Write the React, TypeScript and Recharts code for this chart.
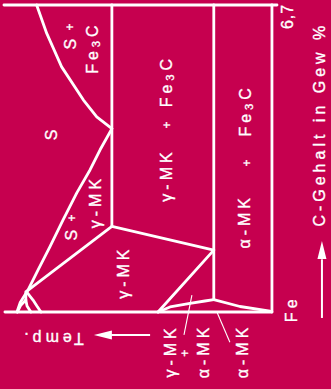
import { ScatterChart, Scatter, XAxis, YAxis, ReferenceDot, ReferenceLine } from 'recharts';

const BG = '#C6004F';
const INK = '#ffffff';
const FONT = '"Liberation Sans", Arial, sans-serif';

// temperature in °C (schematic, hot side on the left) and carbon in wt-%
const tempDomain = [460, 1600];
const carbonDomain = [0, 6.7];

// frame
const topEdge = [{ t: 1596, c: 6.7 }, { t: 460, c: 6.7 }];
const bottomEdge = [{ t: 1592, c: 0 }, { t: 481, c: 0 }];
const roomEdge = [{ t: 481, c: 0 }, { t: 481, c: 6.7 }];

// isotherms
const eutectic = [{ t: 1147, c: 6.7 }, { t: 1147, c: 1.87 }];
const eutectoid = [{ t: 723, c: 6.7 }, { t: 723, c: 0.27 }];
const peritectic = [{ t: 1505, c: 0.44 }, { t: 1505, c: 0.26 }];

// phase boundaries
const liquidusHyper = [
  { t: 1460, c: 6.7 }, { t: 1418, c: 6.08 }, { t: 1356, c: 5.35 },
  { t: 1266, c: 4.63 }, { t: 1210, c: 4.26 }, { t: 1147, c: 4.0 },
];
const liquidusHypo = [
  { t: 1147, c: 4.0 }, { t: 1196, c: 3.54 }, { t: 1238, c: 3.1 }, { t: 1293, c: 2.6 },
  { t: 1350, c: 2.01 }, { t: 1405, c: 1.42 }, { t: 1454, c: 0.92 }, { t: 1496, c: 0.48 },
  { t: 1529, c: 0.2 }, { t: 1542, c: 0 },
];
const solidus = [{ t: 1147, c: 1.87 }, { t: 1502, c: 0.45 }];
const deltaSolidus = [{ t: 1505, c: 0.26 }, { t: 1527, c: 0.14 }, { t: 1540, c: 0 }];
const deltaBoundary = [{ t: 1505, c: 0.26 }, { t: 1500, c: 0.13 }, { t: 1484, c: 0 }];
const gammaDelta = [{ t: 1502, c: 0.44 }, { t: 1475, c: 0.26 }, { t: 1459, c: 0.13 }, { t: 1442, c: 0 }];
const acm = [{ t: 1147, c: 1.87 }, { t: 723, c: 1.35 }];
const a3 = [{ t: 723, c: 1.35 }, { t: 955, c: 0 }];
const alphaGamma = [{ t: 955, c: 0 }, { t: 905, c: 0.11 }, { t: 822, c: 0.19 }, { t: 760, c: 0.24 }, { t: 723, c: 0.27 }];
const alphaSolvus = [{ t: 723, c: 0.27 }, { t: 614, c: 0.12 }, { t: 489, c: 0.02 }];

const boundaries = [
  topEdge, bottomEdge, roomEdge, eutectic, eutectoid, peritectic,
  liquidusHyper, liquidusHypo, solidus, deltaSolidus, deltaBoundary, gammaDelta,
  acm, a3, alphaGamma, alphaSolvus,
];

// leader lines from the small labels under the diagram
const leaders = [
  [{ t: 814, c: 0.37 }, { t: 847, c: -0.5 }],
  [{ t: 710, c: 0 }, { t: 656, c: -0.66 }],
];

// arrows: [tail, base of head], head tip
const tempArrow = [{ t: 988, c: -0.5 }, { t: 1150, c: -0.5 }];
const tempArrowTip = { t: 1222, c: -0.5 };
const carbonArrow = [{ t: 273, c: -0.13 }, { t: 273, c: 1.15 }];
const carbonArrowTip = { t: 273, c: 1.55 };

// text written along the carbon axis ("_3" = subscript)
const labels = [
  { text: 'S', t: 1321, c: 5.89 },
  { text: 'Fe_3C', t: 1228, c: 5.77 },
  { text: 'S', t: 1400, c: 3.91 },
  { text: 'S', t: 1313, c: 1.72 },
  { text: 'γ-MK', t: 1217, c: 2.41 },
  { text: 'γ-MK', t: 1097, c: 0.87 },
  { text: 'γ-MK', t: 918, c: 2.99 },
  { text: 'Fe_3C', t: 921, c: 5.04 },
  { text: 'α-MK', t: 597, c: 1.98 },
  { text: 'Fe_3C', t: 593, c: 4.4 },
  { text: 'γ-MK', t: 901, c: -0.85 },
  { text: 'α-MK', t: 764, c: -0.85 },
  { text: 'α-MK', t: 602, c: -0.85 },
  { text: 'Fe', t: 398, c: 0.07 },
  { text: 'C-Gehalt in Gew %', t: 283, c: 4.1 },
];
const plusSigns = [
  { t: 1321, c: 6.22 },
  { t: 1313, c: 2.05 },
  { t: 919, c: 4.08 },
  { t: 586, c: 3.25 },
  { t: 843, c: -0.9 },
];
const endLabel = { text: '6,7', t: 416, c: 6.45 };
const tempLabel = { text: 'Temp.', t: 1396, c: -0.58 };

const rich = (text: string) => {
  const m = text.match(/^(.*?)_(\d)(.*)$/);
  if (!m) return text;
  return (
    <>
      {m[1]}
      <tspan dy={4} fontSize="0.7em">{m[2]}</tspan>
      <tspan dy={-4}>{m[3]}</tspan>
    </>
  );
};

const textShape = (text: string, angle: number, size: number, spacing: number) => (props: any) => {
  const { cx, cy } = props;
  return (
    <text
      x={cx}
      y={cy}
      transform={`rotate(${angle} ${cx} ${cy})`}
      textAnchor="middle"
      dominantBaseline="central"
      fill={INK}
      stroke={INK}
      strokeWidth={0.35}
      fontFamily={FONT}
      fontSize={size}
      letterSpacing={spacing}
    >
      {rich(text)}
    </text>
  );
};

const headLeft = (props: any) => {
  const { cx, cy } = props;
  return <polygon points={`${cx},${cy} ${cx + 18},${cy - 4.5} ${cx + 18},${cy + 4.5}`} fill={INK} />;
};
const headUp = (props: any) => {
  const { cx, cy } = props;
  return <polygon points={`${cx},${cy} ${cx - 4.5},${cy + 18} ${cx + 4.5},${cy + 18}`} fill={INK} />;
};

const noDot = () => <g />;

export default function App() {
  return (
    <div style={{ position: 'absolute', left: 0, top: 0, width: 331, height: 389, background: BG }}>
      <ScatterChart width={331} height={389} margin={{ top: 5, right: 54, bottom: 77, left: 3 }}>
        <XAxis type="number" dataKey="t" domain={tempDomain} reversed hide />
        <YAxis type="number" dataKey="c" domain={carbonDomain} hide />
        {boundaries.map((d, i) => (
          <Scatter
            key={i}
            data={d}
            line={{ stroke: INK, strokeWidth: 2.8, strokeLinecap: 'round', strokeLinejoin: 'round' }}
            lineType="joint"
            shape={noDot}
            isAnimationActive={false}
          />
        ))}
        {leaders.map((s, i) => (
          <ReferenceLine
            key={`l${i}`}
            segment={[{ x: s[0].t, y: s[0].c }, { x: s[1].t, y: s[1].c }]}
            stroke={INK}
            strokeWidth={1.1}
            ifOverflow="visible"
          />
        ))}
        <ReferenceLine
          segment={[{ x: tempArrow[0].t, y: tempArrow[0].c }, { x: tempArrow[1].t, y: tempArrow[1].c }]}
          stroke={INK}
          strokeWidth={2}
          ifOverflow="visible"
        />
        <ReferenceLine
          segment={[{ x: carbonArrow[0].t, y: carbonArrow[0].c }, { x: carbonArrow[1].t, y: carbonArrow[1].c }]}
          stroke={INK}
          strokeWidth={2}
          ifOverflow="visible"
        />
        <ReferenceDot x={tempArrowTip.t} y={tempArrowTip.c} r={0} ifOverflow="visible" shape={headLeft} />
        <ReferenceDot x={carbonArrowTip.t} y={carbonArrowTip.c} r={0} ifOverflow="visible" shape={headUp} />
        {labels.map((l, i) => (
          <ReferenceDot
            key={`t${i}`}
            x={l.t}
            y={l.c}
            r={0}
            ifOverflow="visible"
            shape={textShape(l.text, -90, 16, 4)}
          />
        ))}
        {plusSigns.map((p, i) => (
          <ReferenceDot key={`p${i}`} x={p.t} y={p.c} r={0} ifOverflow="visible" shape={textShape('+', -90, 12, 0)} />
        ))}
        <ReferenceDot x={endLabel.t} y={endLabel.c} r={0} ifOverflow="visible" shape={textShape(endLabel.text, -90, 16, 1)} />
        <ReferenceDot
          x={tempLabel.t}
          y={tempLabel.c}
          r={0}
          ifOverflow="visible"
          shape={textShape(tempLabel.text, 180, 16, 4)}
        />
      </ScatterChart>
    </div>
  );
}
